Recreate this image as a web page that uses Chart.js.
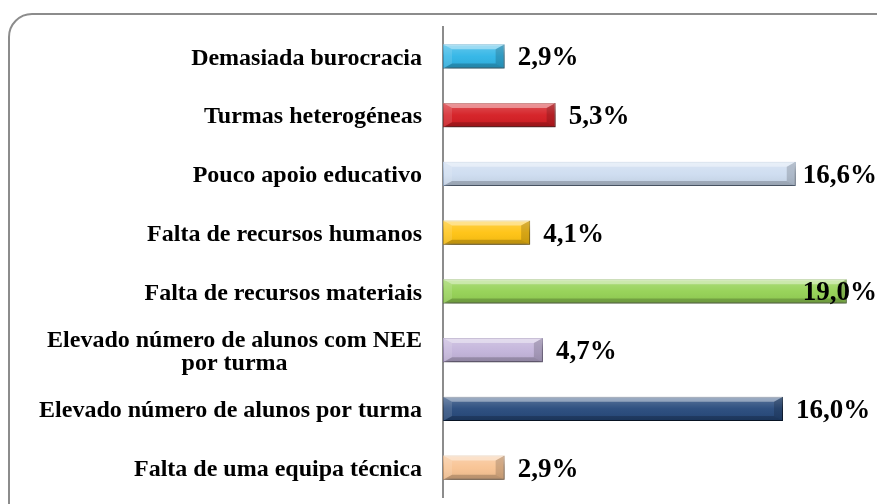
<!DOCTYPE html>
<html>
<head>
<meta charset="utf-8">
<script src="https://cdn.jsdelivr.net/npm/chart.js@4/dist/chart.umd.min.js"></script>
<style>
  html, body { margin: 0; padding: 0; background: #fff; overflow: hidden; }
  #wrap { position: relative; width: 877px; height: 504px; }
  #frame {
    position: absolute; left: 8px; top: 13px; width: 900px; height: 520px;
    border: 2px solid #8c8c8c; border-radius: 24px; box-sizing: border-box;
  }
  canvas { position: absolute; left: 0; top: 0; }
</style>
</head>
<body>
<div id="wrap">
  <div id="frame"></div>
  <canvas id="chart" width="877" height="504"></canvas>
</div>
<script>
// categorias (de cima para baixo)
const categories = [
  ["Demasiada burocracia"],
  ["Turmas heterogéneas"],
  ["Pouco apoio educativo"],
  ["Falta de recursos humanos"],
  ["Falta de recursos materiais"],
  ["Elevado número de alunos com NEE", "por turma"],
  ["Elevado número de alunos por turma"],
  ["Falta de uma equipa técnica"]
];
const values = [2.9, 5.3, 16.6, 4.1, 19.0, 4.7, 16.0, 2.9];
const valueLabels = ["2,9%", "5,3%", "16,6%", "4,1%", "19,0%", "4,7%", "16,0%", "2,9%"];
const barColors = ["#2db4e6", "#d41a20", "#cddcf0", "#ffc20e", "#93d152", "#c2b3da", "#24477a", "#f8c291"];
const barBorders = ["#1a8cbd", "#98100f", "#9bb4d6", "#c99600", "#6ea238", "#8f7cae", "#12294a", "#d39964"];

const LABEL_FONT = "bold 24px 'Liberation Serif', 'Times New Roman', serif";
const VALUE_FONT = "bold 27px 'Liberation Serif', 'Times New Roman', serif";

// sombra + efeito biselado nas barras
const bevelPlugin = {
  id: "bevel",
  beforeDatasetsDraw(chart) {
    const ctx = chart.ctx;
    ctx.save();
    ctx.shadowColor = "rgba(0,0,0,0.45)";
    ctx.shadowBlur = 7;
    ctx.shadowOffsetX = 2;
    ctx.shadowOffsetY = 5;
  },
  afterDatasetsDraw(chart) {
    const ctx = chart.ctx;
    ctx.restore();
    const meta = chart.getDatasetMeta(0);
    meta.data.forEach((bar) => {
      const p = bar.getProps(["x", "y", "base", "height"], true);
      const l = p.base, r = p.x, t = p.y - p.height / 2, b = p.y + p.height / 2;
      const bx = 9, by = 5;
      const quad = (pts, fill) => {
        ctx.beginPath();
        ctx.moveTo(pts[0][0], pts[0][1]);
        for (let i = 1; i < pts.length; i++) ctx.lineTo(pts[i][0], pts[i][1]);
        ctx.closePath();
        ctx.fillStyle = fill;
        ctx.fill();
      };
      ctx.save();
      const g = ctx.createLinearGradient(0, t, 0, b);
      g.addColorStop(0, "rgba(255,255,255,0.25)");
      g.addColorStop(0.5, "rgba(255,255,255,0.05)");
      g.addColorStop(1, "rgba(0,0,0,0.08)");
      ctx.fillStyle = g;
      ctx.fillRect(l, t, r - l, b - t);
      quad([[l, t], [r, t], [r - bx, t + by], [l + bx, t + by]], "rgba(255,255,255,0.4)");
      quad([[l, b], [r, b], [r - bx, b - by], [l + bx, b - by]], "rgba(0,0,0,0.2)");
      quad([[r, t], [r, b], [r - bx, b - by], [r - bx, t + by]], "rgba(0,0,0,0.16)");
      quad([[l, t], [l, b], [l + bx, b - by], [l + bx, t + by]], "rgba(255,255,255,0.12)");
      ctx.restore();
    });
  }
};

// rótulos das categorias e dos valores
const labelPlugin = {
  id: "labels",
  afterDraw(chart) {
    const ctx = chart.ctx;
    const yScale = chart.scales.y;
    const area = chart.chartArea;
    ctx.save();
    ctx.fillStyle = "#000";
    ctx.textBaseline = "middle";

    ctx.font = LABEL_FONT;
    const lineH = 23;
    categories.forEach((lines, i) => {
      const cy = yScale.getPixelForTick(i);
      const widest = Math.max(...lines.map(s => ctx.measureText(s).width));
      const right = area.left - 21;
      const center = right - widest / 2;
      ctx.textAlign = "center";
      lines.forEach((s, k) => {
        const y = cy + (k - (lines.length - 1) / 2) * lineH + 2;
        ctx.fillText(s, center, y);
      });
    });

    ctx.font = VALUE_FONT;
    ctx.textAlign = "left";
    const meta = chart.getDatasetMeta(0);
    meta.data.forEach((bar, i) => {
      const w = ctx.measureText(valueLabels[i]).width;
      const x = Math.min(bar.x + 13, chart.width - w);
      ctx.fillText(valueLabels[i], x, bar.y + 2);
    });
    ctx.restore();
  }
};

new Chart(document.getElementById("chart"), {
  type: "bar",
  data: {
    labels: categories,
    datasets: [{
      data: values,
      backgroundColor: barColors,
      borderColor: barBorders,
      borderWidth: 1,
      borderSkipped: false,
      barPercentage: 1,
      categoryPercentage: 0.41
    }]
  },
  options: {
    indexAxis: "y",
    responsive: false,
    animation: false,
    layout: { padding: { left: 0, right: 9, top: 27, bottom: 7 } },
    plugins: { legend: { display: false }, tooltip: { enabled: false } },
    scales: {
      x: { display: false, min: 0, max: 20 },
      y: {
        grid: { display: false, drawTicks: false },
        ticks: { display: false },
        border: { display: true, color: "#8c8c8c", width: 2 },
        afterFit(scale) { scale.width = 443; }
      }
    }
  },
  plugins: [bevelPlugin, labelPlugin]
});
</script>
</body>
</html>
